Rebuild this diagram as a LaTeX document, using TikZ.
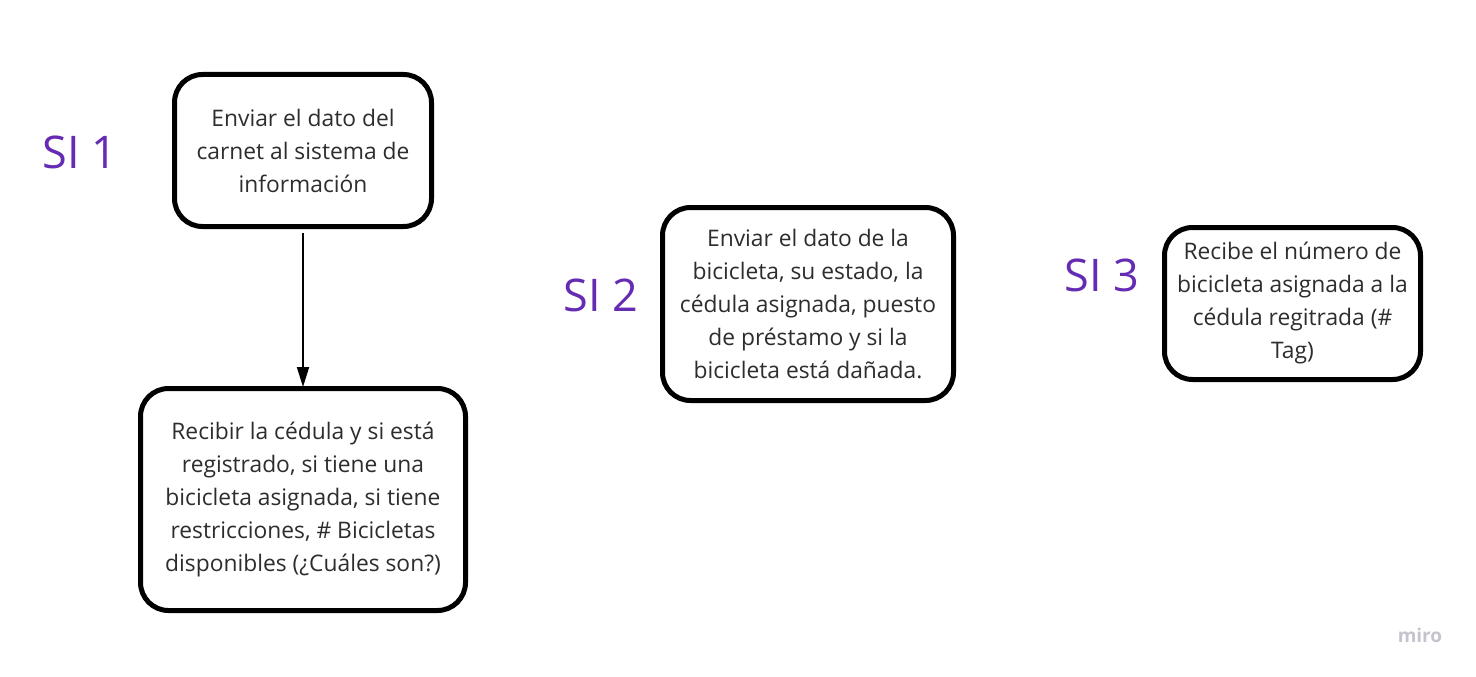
\documentclass[tikz,border=0pt]{standalone}
\usepackage{fontspec}
\setmainfont{Open Sans}
\usetikzlibrary{arrows.meta}
\definecolor{sipurple}{RGB}{101,44,179}
\definecolor{txt}{RGB}{45,45,45}
\definecolor{wm}{RGB}{196,196,206}
\begin{document}
\begin{tikzpicture}[x=1pt,y=-1pt,
  box/.style={draw=black, line width=5pt, rounded corners=28pt, fill=white,
    align=center, inner sep=0pt, text=txt, font=\fontsize{22.8}{33}\selectfont},
  silabel/.style={text=sipurple, font=\fontsize{45}{48}\selectfont, inner sep=0pt},
  conn/.style={line width=1.8pt, -{Triangle[length=20pt,width=12pt]}}]
\useasboundingbox (0,0) rectangle (1476,677);
\fill[white] (0,0) rectangle (1476,677);
\node[box, minimum width=257pt, minimum height=152pt] (b1) at (303,150.5)
  {Enviar el dato del\\carnet al sistema de\\información};
\node[box, minimum width=325pt, minimum height=222pt] (b2) at (303,499.5)
  {Recibir la cédula y si está\\registrado, si tiene una\\bicicleta asignada, si tiene\\restricciones, \# Bicicletas\\disponibles (¿Cuáles son?)};
\node[box, minimum width=291pt, minimum height=193pt] (b3) at (808,304)
  {Enviar el dato de la\\bicicleta, su estado, la\\cédula asignada, puesto\\de préstamo y si la\\bicicleta está dañada.};
\node[box, minimum width=256pt, minimum height=152pt] (b4) at (1292.5,303.5)
  {Recibe el número de\\bicicleta asignada a la\\cédula regitrada (\#\\Tag)};
\node[silabel] (s1) at (80,152) {SI 1};
\node[silabel] (s2) at (601,295) {SI 2};
\node[silabel] (s3) at (1102,275) {SI 3};
\node[text=wm, font=\fontsize{19}{21}\selectfont\bfseries, inner sep=0pt] (wmark) at (1420,635) {miro};
\draw[conn] ([yshift=-4pt]b1.south) -- ([yshift=-1pt]b2.north);
\end{tikzpicture}
\end{document}
